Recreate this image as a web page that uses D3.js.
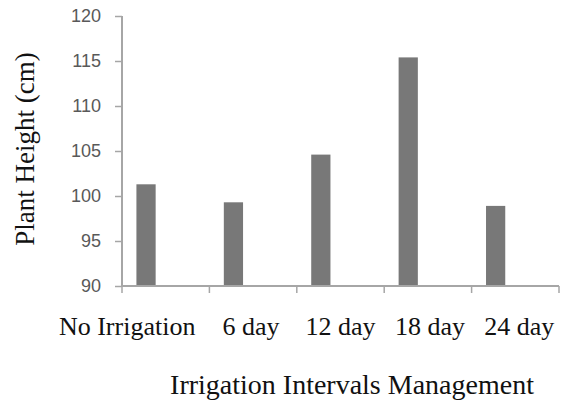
<!DOCTYPE html>
<html>
<head>
<meta charset="utf-8">
<script src="https://cdn.jsdelivr.net/npm/d3@7"></script>
<style>
  body { margin: 0; background: #fff; }
  svg { display: block; }
</style>
</head>
<body>
<svg id="chart"></svg>
<script>
const categories = ["No Irrigation", "6 day", "12 day", "18 day", "24 day"];
const heights = [101.3, 99.3, 104.6, 115.4, 98.9];
const yTicks = [90, 95, 100, 105, 110, 115, 120];

const width = 564, height = 402;
const plotLeft = 122, plotRight = 559, plotTop = 16, plotBottom = 286;

const svg = d3.select("#chart")
  .attr("width", width)
  .attr("height", height);

const x = d3.scaleBand()
  .domain(categories)
  .range([plotLeft, plotRight]);

const y = d3.scaleLinear()
  .domain([90, 120])
  .range([plotBottom, plotTop]);

// bars sit left of the band centre, as in the original
svg.selectAll("rect.bar")
  .data(heights)
  .enter().append("rect")
  .attr("class", "bar")
  .attr("x", (d, i) => x(categories[i]) + x.bandwidth() * 0.165)
  .attr("width", x.bandwidth() * 0.22)
  .attr("y", d => y(d))
  .attr("height", d => y(90) - y(d))
  .attr("fill", "#787878");

// y axis
const yAxis = svg.append("g")
  .attr("transform", "translate(" + plotLeft + ",0)")
  .call(d3.axisLeft(y).tickValues(yTicks).tickSize(7).tickPadding(14));
yAxis.select(".domain").attr("stroke", "#a6a6a6").attr("stroke-width", 2)
  .attr("d", "M0," + plotTop + "V" + plotBottom);
yAxis.selectAll(".tick line").attr("stroke", "#a6a6a6").attr("stroke-width", 1.5);
yAxis.selectAll(".tick text")
  .attr("font-family", "'Liberation Sans', Arial, sans-serif")
  .attr("font-size", 18)
  .attr("fill", "#595959");

// x axis line + boundary ticks
const bounds = categories.map(c => x(c)).concat([x.range()[1]]);
svg.append("line")
  .attr("x1", plotLeft).attr("x2", plotRight)
  .attr("y1", plotBottom).attr("y2", plotBottom)
  .attr("stroke", "#a6a6a6").attr("stroke-width", 2);
svg.selectAll("line.xtick")
  .data(bounds)
  .enter().append("line")
  .attr("class", "xtick")
  .attr("x1", d => d).attr("x2", d => d)
  .attr("y1", plotBottom).attr("y2", plotBottom + 7)
  .attr("stroke", "#a6a6a6").attr("stroke-width", 1.5);

// category labels
svg.selectAll("text.cat")
  .data(categories)
  .enter().append("text")
  .attr("class", "cat")
  .attr("x", (d, i) => i === 0 ? x(d) + x.bandwidth() - 14 : x(d) + x.bandwidth() / 2 + (i - 2) * 2)
  .attr("y", 335)
  .attr("text-anchor", (d, i) => i === 0 ? "end" : "middle")
  .attr("font-family", "'Liberation Serif', 'Times New Roman', serif")
  .attr("font-size", 26)
  .attr("fill", "#111")
  .text(d => d);

// axis titles
svg.append("text")
  .attr("x", 352)
  .attr("y", 394)
  .attr("text-anchor", "middle")
  .attr("font-family", "'Liberation Serif', 'Times New Roman', serif")
  .attr("font-size", 28)
  .attr("fill", "#111")
  .text("Irrigation Intervals Management");

svg.append("text")
  .attr("transform", "translate(34,149) rotate(-90)")
  .attr("text-anchor", "middle")
  .attr("font-family", "'Liberation Serif', 'Times New Roman', serif")
  .attr("font-size", 27)
  .attr("fill", "#111")
  .text("Plant Height (cm)");
</script>
</body>
</html>
